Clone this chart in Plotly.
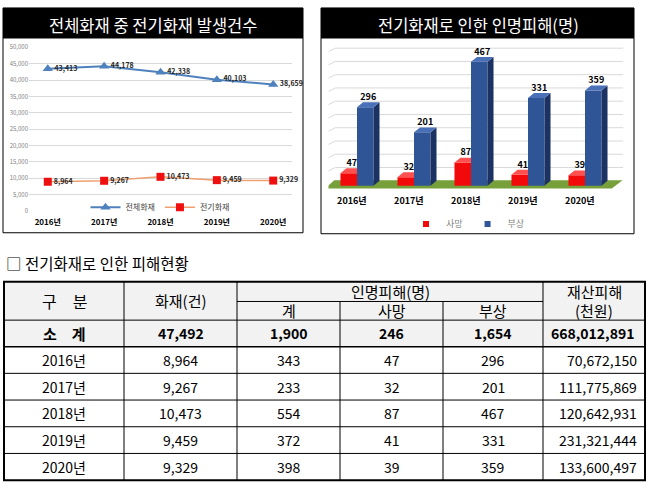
import plotly.graph_objects as go

W, H = 651, 492
FONT = "Noto Sans CJK KR"

# ---------------- data ----------------
years = ["2016년", "2017년", "2018년", "2019년", "2020년"]
total_fires = [43413, 44178, 42338, 40103, 38659]
elec_fires = [8964, 9267, 10473, 9459, 9329]
deaths = [47, 32, 87, 41, 39]
injuries = [296, 201, 467, 331, 359]
casualties = [343, 233, 554, 372, 398]
property_damage = [70672150, 111775869, 120642931, 231321444, 133600497]

series1_names = ["전체화재", "전기화재"]
series2_names = ["사망", "부상"]
chart1_title = "전체화재 중 전기화재 발생건수"
chart2_title = "전기화재로 인한 인명피해(명)"
table_title = "□ 전기화재로 인한 피해현황"
head_gubun = "구\u3000분"
head_fire = "화재(건)"
head_people = "인명피해(명)"
head_sub = ["계", "사망", "부상"]
head_prop = ["재산피해", "(천원)"]
sum_label = "소\u3000계"


def px(x):
    return x / W


def py(y):
    return 1 - y / H


fig = go.Figure()
shapes = []
ann = []

# ================= left chart: line =================
fig.add_trace(go.Scatter(
    x=years, y=total_fires, name=series1_names[0], mode="lines+markers+text",
    line=dict(color="#4f81bd", width=2),
    marker=dict(symbol="triangle-up", size=9, color="#4f81bd"),
    text=[f"{v:,}" for v in total_fires], textposition="middle right",
    textfont=dict(size=7, color="#262626", family=FONT, weight="bold"),
    cliponaxis=False,
    xaxis="x", yaxis="y", legend="legend", hoverinfo="skip"))
fig.add_trace(go.Scatter(
    x=years, y=elec_fires, name=series1_names[1], mode="lines+markers+text",
    line=dict(color="#f0a070", width=1.5),
    marker=dict(symbol="square", size=8, color="#ee1010"),
    text=[f"{v:,}" for v in elec_fires], textposition="middle right",
    textfont=dict(size=7, color="#262626", family=FONT, weight="bold"),
    cliponaxis=False,
    xaxis="x", yaxis="y", legend="legend", hoverinfo="skip"))

# ================= right chart: pseudo-3D bars =================
BW = 0.29   # bar width (category units)
DX = 0.105  # depth offset x
DY = 18.5   # depth offset y (value units)

xs = list(range(len(years)))
fig.add_trace(go.Bar(x=xs, y=deaths, name=series2_names[0], width=BW, offset=-BW,
                     marker=dict(color="#f20a0a", line=dict(width=0)),
                     xaxis="x2", yaxis="y2", showlegend=False, hoverinfo="skip"))
fig.add_trace(go.Bar(x=xs, y=injuries, name=series2_names[1], width=BW, offset=0,
                     marker=dict(color="#2f5597", line=dict(width=0)),
                     xaxis="x2", yaxis="y2", showlegend=False, hoverinfo="skip"))


def faces(vals, x0s, side=True, trim=False):
    sx, sy, tx, ty = [], [], [], []
    for x0, v in zip(x0s, vals):
        x1 = x0 + BW
        if side:
            sx += [x1, x1 + DX, x1 + DX, x1, x1, None]
            sy += [0, DY, v + DY, v, 0, None]
        if trim:
            tx += [x0, x1, x1, x0 + DX, x0, None]
            ty += [v, v, v + DY, v + DY, v, None]
        else:
            tx += [x0, x1, x1 + DX, x0 + DX, x0, None]
            ty += [v, v, v + DY, v + DY, v, None]
    return sx, sy, tx, ty


_, _, rtx, rty = faces(deaths, [i - BW for i in xs], side=False, trim=True)
bsx, bsy, btx, bty = faces(injuries, [i for i in xs])
fig.add_trace(go.Scatter(x=rtx, y=rty, fill="toself", fillcolor="#ff5050", mode="lines",
                         line=dict(width=0, color="#ff5050"), xaxis="x2", yaxis="y2",
                         showlegend=False, hoverinfo="skip"))
fig.add_trace(go.Scatter(x=bsx, y=bsy, fill="toself", fillcolor="#1b3262", mode="lines",
                         line=dict(width=0, color="#1b3262"), xaxis="x2", yaxis="y2",
                         showlegend=False, hoverinfo="skip"))
fig.add_trace(go.Scatter(x=btx, y=bty, fill="toself", fillcolor="#4a70b8", mode="lines",
                         line=dict(width=0, color="#4a70b8"), xaxis="x2", yaxis="y2",
                         showlegend=False, hoverinfo="skip"))
# value labels
fig.add_trace(go.Scatter(x=[i - BW / 2 + DX / 2 for i in xs], y=[v + DY for v in deaths],
                         mode="text", text=[str(v) for v in deaths], textposition="top center",
                         textfont=dict(size=9, color="#000", family=FONT, weight="bold"),
                         cliponaxis=False,
                         xaxis="x2", yaxis="y2", showlegend=False, hoverinfo="skip"))
fig.add_trace(go.Scatter(x=[i + BW / 2 + DX / 2 for i in xs], y=[v + DY for v in injuries],
                         mode="text", text=[str(v) for v in injuries], textposition="top center",
                         textfont=dict(size=9, color="#000", family=FONT, weight="bold"),
                         cliponaxis=False,
                         xaxis="x2", yaxis="y2", showlegend=False, hoverinfo="skip"))
# legend entries
fig.add_trace(go.Scatter(x=[None], y=[None], mode="markers", name=series2_names[0],
                         marker=dict(symbol="square", size=6, color="#f20a0a"),
                         xaxis="x2", yaxis="y2", legend="legend2"))
fig.add_trace(go.Scatter(x=[None], y=[None], mode="markers", name=series2_names[1],
                         marker=dict(symbol="square", size=6, color="#2f5597"),
                         xaxis="x2", yaxis="y2", legend="legend2"))

# floor and back-wall gridlines
shapes.append(dict(type="path", xref="x2", yref="y2", layer="below",
                   path="M -0.56,-11 L 4.47,-11 L 4.66,20 L -0.40,20 Z",
                   fillcolor="#77a03a", line=dict(width=0)))
for v in range(50, 501, 50):
    shapes.append(dict(type="line", xref="x2", yref="y2", layer="below",
                       x0=-0.38, x1=4.67, y0=v + DY, y1=v + DY,
                       line=dict(color="#d9d9d9", width=1)))
    shapes.append(dict(type="line", xref="x2", yref="y2", layer="below",
                       x0=-0.38, x1=-0.55, y0=v + DY, y1=v,
                       line=dict(color="#d9d9d9", width=1)))

# ================= chart frames & titles =================
for (x0, x1, y1b, title, cx) in [(3, 303, 232, chart1_title, 153), (321, 634, 233, chart2_title, 478)]:
    shapes.append(dict(type="rect", xref="paper", yref="paper", layer="above",
                       x0=px(x0), x1=px(x1), y0=py(y1b), y1=py(3),
                       line=dict(color="#000", width=1), fillcolor="rgba(0,0,0,0)"))
    shapes.append(dict(type="rect", xref="paper", yref="paper", layer="below",
                       x0=px(x0), x1=px(x1), y0=py(34), y1=py(3),
                       line=dict(width=0), fillcolor="#000"))
    ann.append(dict(xref="paper", yref="paper", x=px(cx), y=py(20), text=title,
                    showarrow=False, xanchor="center", yanchor="middle",
                    font=dict(size=16.5, color="#fff", family=FONT)))

# ================= table =================
ann.append(dict(xref="paper", yref="paper", x=px(4), y=py(263), text=table_title,
                showarrow=False, xanchor="left", yanchor="middle",
                font=dict(size=15.5, color="#000", family=FONT)))

cols = [4, 124, 237, 340, 443, 543, 645]
top, mid, hbot, sbot, bot = 282, 302, 321, 348, 484
nrow = len(years)
rows = [sbot + (bot - sbot) * k / nrow for k in range(nrow + 1)]

shapes.append(dict(type="rect", xref="paper", yref="paper", layer="below",
                   x0=px(cols[0]), x1=px(cols[-1]), y0=py(sbot), y1=py(top),
                   line=dict(width=0), fillcolor="#f2f2f2"))


def hline(y, xa, xb, w=1):
    shapes.append(dict(type="line", xref="paper", yref="paper", x0=px(xa), x1=px(xb),
                       y0=py(y), y1=py(y), line=dict(color="#000", width=w)))


def vline(x, ya, yb, w=1):
    shapes.append(dict(type="line", xref="paper", yref="paper", x0=px(x), x1=px(x),
                       y0=py(ya), y1=py(yb), line=dict(color="#000", width=w)))


hline(mid, cols[2], cols[5])
hline(hbot, cols[0], cols[-1])
hline(sbot, cols[0], cols[-1], 1.5)
for r in rows[1:-1]:
    hline(r, cols[0], cols[-1])
for c in [cols[1], cols[2], cols[5]]:
    vline(c, top, bot)
for c in [cols[3], cols[4]]:
    vline(c, mid, bot)
shapes.append(dict(type="rect", xref="paper", yref="paper", layer="above",
                   x0=px(cols[0]), x1=px(cols[-1]), y0=py(bot), y1=py(top),
                   line=dict(color="#000", width=2), fillcolor="rgba(0,0,0,0)"))


def cell(text, x, y, size=14, bold=False, anchor="center"):
    ann.append(dict(xref="paper", yref="paper", x=px(x), y=py(y), text=text,
                    showarrow=False, xanchor=anchor, yanchor="middle",
                    font=dict(size=size, color="#000", family=FONT,
                              weight="bold" if bold else "normal")))


def ccenter(i):
    return (cols[i] + cols[i + 1]) / 2


cell(head_gubun, ccenter(0), (top + hbot) / 2, 16)
cell(head_fire, ccenter(1), (top + hbot) / 2, 15)
cell(head_people, (cols[2] + cols[5]) / 2, (top + mid) / 2, 15)
for k, t in enumerate(head_sub):
    cell(t, ccenter(2 + k), (mid + hbot) / 2, 15)
cell(head_prop[0], ccenter(5), (top + mid) / 2, 15)
cell(head_prop[1], ccenter(5), (mid + hbot) / 2, 15)

ys = (hbot + sbot) / 2
cell(sum_label, ccenter(0), ys, 15, True)
cell(f"{sum(elec_fires):,}", ccenter(1), ys, 14, True)
cell(f"{sum(casualties):,}", ccenter(2), ys, 14, True)
cell(f"{sum(deaths):,}", ccenter(3), ys, 14, True)
cell(f"{sum(injuries):,}", ccenter(4), ys, 14, True)
cell(f"{sum(property_damage):,}", cols[6] - 9, ys, 14, True, "right")

for k in range(nrow):
    yc = (rows[k] + rows[k + 1]) / 2
    cell(years[k], ccenter(0), yc)
    cell(f"{elec_fires[k]:,}", ccenter(1), yc)
    cell(f"{casualties[k]:,}", ccenter(2), yc)
    cell(f"{deaths[k]:,}", ccenter(3), yc)
    cell(f"{injuries[k]:,}", ccenter(4), yc)
    cell(f"{property_damage[k]:,}", cols[6] - 6, yc, anchor="right")

# ================= layout =================
fig.update_layout(
    width=W, height=H, autosize=False,
    margin=dict(l=0, r=0, t=0, b=0, pad=0),
    paper_bgcolor="#fff", plot_bgcolor="rgba(0,0,0,0)",
    font=dict(family=FONT, color="#000"),
    shapes=shapes, annotations=ann,
    xaxis=dict(domain=[px(29), px(292)], type="category", showgrid=False, zeroline=False,
               showline=False, ticks="", tickfont=dict(size=8, color="#000", weight="bold"),
               ticklabelstandoff=5, fixedrange=True),
    yaxis=dict(domain=[py(210), py(43)], range=[0, 50000], dtick=5000, tickformat=",",
               showgrid=True, gridcolor="#d9d9d9", gridwidth=1, zeroline=False, showline=False,
               ticks="", tickfont=dict(size=6, color="#7f7f7f"), fixedrange=True),
    xaxis2=dict(domain=[px(328.5), px(624.9)], range=[-0.5, 4.7], anchor="y2",
                tickvals=[i - 0.09 for i in xs], ticktext=years, showgrid=False,
                zeroline=False, showline=False, ticks="",
                tickfont=dict(size=9, color="#000", weight="bold"), ticklabelstandoff=3,
                fixedrange=True),
    yaxis2=dict(domain=[py(189.4), py(40.9)], range=[-20, 530], anchor="x2",
                showgrid=False, zeroline=False, showline=False, showticklabels=False,
                ticks="", fixedrange=True),
    barmode="overlay",
    legend=dict(orientation="h", x=px(160), y=py(206), xanchor="center", yanchor="middle",
                font=dict(size=8, color="#404040"), bgcolor="rgba(0,0,0,0)",
                itemwidth=30, tracegroupgap=0),
    legend2=dict(orientation="h", x=px(468), y=py(223), xanchor="center", yanchor="middle",
                 font=dict(size=9, color="#7f7f7f"), bgcolor="rgba(0,0,0,0)",
                 itemwidth=30),
)

fig.write_html("out.html", config={"displayModeBar": False},
               post_script="document.body.style.margin='0px';document.body.style.overflow='hidden';")
